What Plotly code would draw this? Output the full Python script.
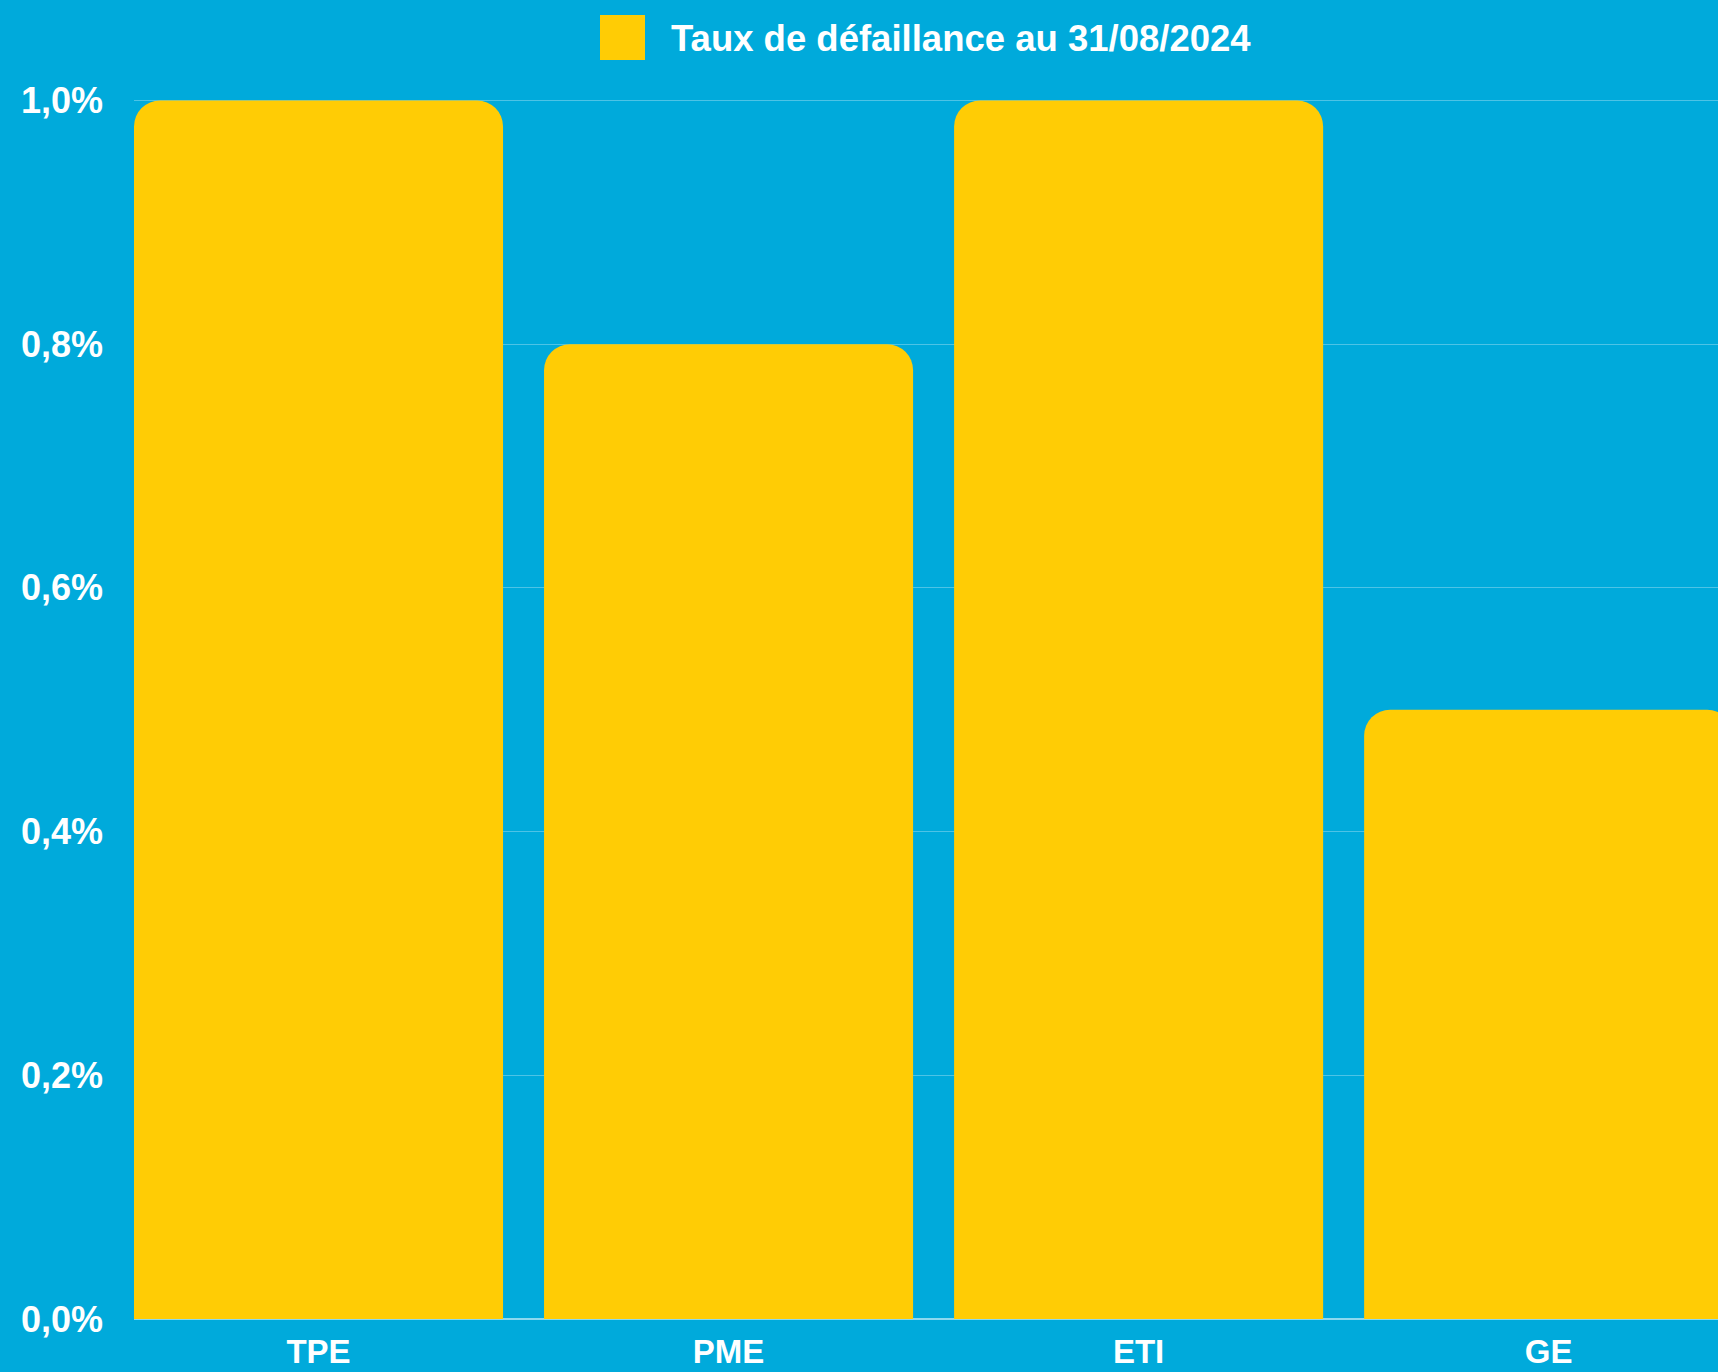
import plotly.graph_objects as go

# données
categories = ["TPE", "PME", "ETI", "GE"]
taux = [1.0, 0.8, 1.0, 0.5]
serie_nom = "Taux de défaillance au 31/08/2024"
y_ticks = [0.0, 0.2, 0.4, 0.6, 0.8, 1.0]
y_labels = ["0,0%", "0,2%", "0,4%", "0,6%", "0,8%", "1,0%"]

BLEU = "#00AADB"
JAUNE = "#FFCC05"
POLICE = "Liberation Sans"

fig = go.Figure()

fig.add_trace(go.Bar(
    x=categories,
    y=taux,
    name=serie_nom,
    marker=dict(color=JAUNE, line=dict(width=0), cornerradius=26),
    showlegend=False,
))

# légende faite à la main (carré jaune + texte)
fig.add_shape(
    type="rect", xref="paper", yref="paper",
    x0=(600 - 134) / 1584, x1=(645 - 134) / 1584,
    y0=1 + (98 - 60) / 1221, y1=1 + (98 - 15) / 1221,
    fillcolor=JAUNE, line=dict(width=0),
)
fig.add_annotation(
    text=serie_nom, xref="paper", yref="paper",
    x=(669 - 134) / 1584, y=1 + (98 - 39) / 1221,
    xanchor="left", yanchor="middle", showarrow=False,
    font=dict(family=POLICE, size=36.5, color="white", weight="bold"),
)

fig.update_layout(
    width=1718,
    height=1372,
    paper_bgcolor=BLEU,
    plot_bgcolor=BLEU,
    bargap=0.1,
    margin=dict(l=134, r=0, t=98, b=53),
    showlegend=False,
)

fig.update_xaxes(
    range=[-0.45, 3.413],
    showgrid=False,
    showline=False,
    ticks="",
    tickfont=dict(family=POLICE, size=33, color="white", weight="bold"),
    ticklabelstandoff=10,
)

# un peu au-dessus de 1,0 pour que la grille du haut soit tracée
fig.update_yaxes(
    range=[0, 1.002],
    tickvals=y_ticks,
    ticktext=y_labels,
    showgrid=True,
    gridcolor="rgba(255,255,255,0.3)",
    gridwidth=1,
    zeroline=True,
    zerolinecolor="rgba(255,255,255,0.55)",
    zerolinewidth=2,
    showline=False,
    ticks="",
    tickfont=dict(family=POLICE, size=36, color="white", weight="bold"),
    ticklabelstandoff=30,
)

# pas de marge autour du graphique dans la page
fig.write_html(
    "out.html",
    config={"displayModeBar": False},
    post_script="document.body.style.margin='0';",
)
